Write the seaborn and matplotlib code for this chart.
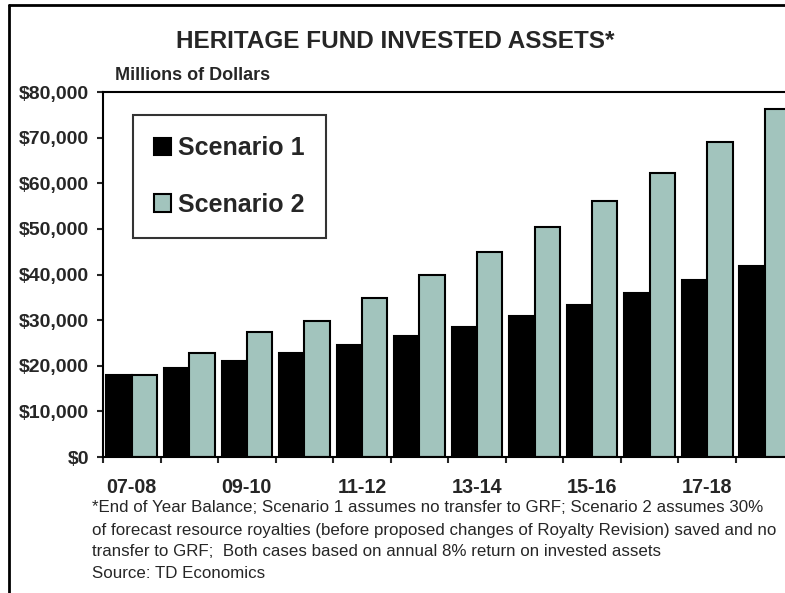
import numpy as np
import pandas as pd
import matplotlib
matplotlib.use("Agg")
import matplotlib.pyplot as plt
from matplotlib.lines import Line2D
import seaborn as sns

# values (millions of dollars)
periods = ["07-08", "08-09", "09-10", "10-11", "11-12", "12-13",
           "13-14", "14-15", "15-16", "16-17", "17-18", "18-19"]
scenario1 = [18000, 19400, 21000, 22700, 24500, 26500,
             28500, 30900, 33300, 35900, 38800, 41900]
scenario2 = [17900, 22700, 27500, 29700, 34900, 39900,
             45000, 50500, 56200, 62300, 69000, 76300]
series_names = ["Scenario 1", "Scenario 2"]
ytick_vals = [0, 10000, 20000, 30000, 40000, 50000, 60000, 70000, 80000]

df = pd.DataFrame({
    "period": periods * 2,
    "scenario": [series_names[0]] * len(periods) + [series_names[1]] * len(periods),
    "value": scenario1 + scenario2,
})

sns.set_style("white")
plt.rcParams["font.family"] = ["Liberation Sans", "DejaVu Sans"]

fig = plt.figure(figsize=(7.85, 5.93), dpi=100)
W, H = 785, 593
ax = fig.add_axes([103 / W, 1 - 457 / H, 690.5 / W, 365 / H])

sns.barplot(data=df, x="period", y="value", hue="scenario", order=periods,
            palette={"Scenario 1": "black", "Scenario 2": "#A2C4BD"},
            edgecolor="black", linewidth=1.5, width=0.88, gap=0,
            saturation=1, ax=ax)

ax.set_xlim(-0.5, len(periods) - 0.5)
ax.set_ylim(0, 80000)
ax.set_xlabel("")
ax.set_ylabel("")

ax.set_yticks(ytick_vals)
ax.set_yticklabels(["${:,.0f}".format(v) for v in ytick_vals],
                   fontsize=14, fontweight="bold")
ax.tick_params(axis="y", direction="out", length=4, width=1.5, pad=6, left=True)

ax.set_xticks(range(len(periods)))
ax.set_xticklabels([p if i % 2 == 0 else "" for i, p in enumerate(periods)],
                   fontsize=14.2, fontweight="bold")
ax.tick_params(axis="x", which="major", length=0, pad=15)
ax.set_xticks(np.arange(-0.5, len(periods), 1.0), minor=True)
ax.tick_params(axis="x", which="minor", direction="out", length=4.5, width=1.5,
               bottom=True)

for s in ["left", "bottom", "top"]:
    ax.spines[s].set_visible(True)
    ax.spines[s].set_linewidth(1.5)
    ax.spines[s].set_color("black")
ax.spines["right"].set_visible(False)

leg = ax.legend(loc="upper left", bbox_to_anchor=(0.043, 0.937),
                prop={"size": 18, "weight": "bold"}, frameon=True,
                fancybox=False, edgecolor="black", handlelength=0.7,
                handleheight=0.7, handletextpad=0.25, labelspacing=1.3,
                borderpad=0.85, borderaxespad=0)
leg.get_frame().set_linewidth(1.5)
leg.get_frame().set_facecolor("white")

fig.text(395 / W, 1 - 42 / H, "HERITAGE FUND INVESTED ASSETS*",
         ha="center", va="center", fontsize=17.5, fontweight="bold")
fig.text(115 / W, 1 - 75 / H, "Millions of Dollars",
         ha="left", va="center", fontsize=13, fontweight="bold")

notes = [
    "*End of Year Balance; Scenario 1 assumes no transfer to GRF; Scenario 2 assumes 30%",
    "of forecast resource royalties (before proposed changes of Royalty Revision) saved and no",
    "transfer to GRF;  Both cases based on annual 8% return on invested assets",
    "Source: TD Economics",
]
for i, line in enumerate(notes):
    fig.text(92 / W, 1 - (508 + 22 * i) / H, line, ha="left", va="center",
             fontsize=12.2)

# outer frame
fig.add_artist(Line2D([9 / W, 9 / W], [0, 1 - 5 / H], transform=fig.transFigure,
                      color="black", linewidth=2))
fig.add_artist(Line2D([9 / W, 1], [1 - 5 / H, 1 - 5 / H], transform=fig.transFigure,
                      color="black", linewidth=2))

fig.savefig("out.png", dpi=100)
